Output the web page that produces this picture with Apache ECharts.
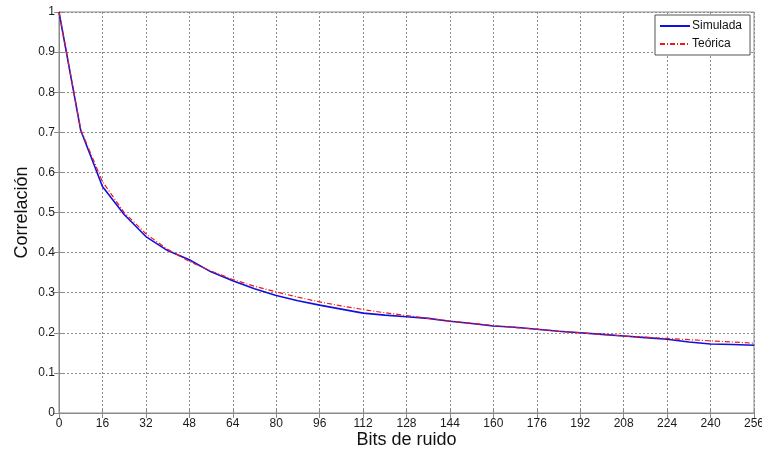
<!DOCTYPE html>
<html>
<head>
<meta charset="utf-8">
<script src="https://cdn.jsdelivr.net/npm/echarts@6/dist/echarts.min.js"></script>
<style>
  html, body { margin: 0; padding: 0; background: #fff; }
  #chart { width: 762px; height: 452px; }
</style>
</head>
<body>
<div id="chart"></div>
<script>
// Noise bits on the x axis
const bits = [0, 8, 16, 24, 32, 40, 48, 56, 64, 72, 80, 88, 96, 104, 112, 120, 128,
              136, 144, 152, 160, 168, 176, 184, 192, 200, 208, 216, 224, 232, 240, 248, 256];

// Measured correlation
const simulada = [1.000, 0.705, 0.565, 0.495, 0.440, 0.405, 0.382, 0.352, 0.330, 0.310, 0.293,
                  0.280, 0.269, 0.259, 0.249, 0.244, 0.240, 0.236, 0.229, 0.223, 0.217, 0.214,
                  0.209, 0.204, 0.200, 0.196, 0.192, 0.188, 0.184, 0.177, 0.172, 0.171, 0.169];

// Expected correlation
const teorica = [1.000, 0.707, 0.577, 0.500, 0.447, 0.408, 0.378, 0.354, 0.333, 0.316, 0.302,
                 0.289, 0.277, 0.267, 0.258, 0.250, 0.243, 0.236, 0.229, 0.224, 0.218, 0.213,
                 0.209, 0.204, 0.200, 0.196, 0.192, 0.189, 0.186, 0.183, 0.180, 0.177, 0.174];

const seriesNames = ['Simulada', 'Teórica'];
const xTitle = 'Bits de ruido';
const yTitle = 'Correlación';

const pair = (xs, ys) => xs.map((x, i) => [x, ys[i]]);

const chart = echarts.init(document.getElementById('chart'), null, { renderer: 'canvas' });

const fontFamily = 'Liberation Sans, Arial, sans-serif';
const labelFont = { fontFamily: fontFamily, fontSize: 12, color: '#1a1a1a' };
const frameColor = '#8a8a8a';
const gridLine = { show: true, lineStyle: { color: '#8c8c8c', type: [2, 2], width: 1 } };

chart.setOption({
  animation: false,
  backgroundColor: '#ffffff',
  grid: {
    left: 59, right: 8, top: 12, bottom: 39,
    outerBoundsMode: 'none', containLabel: false,
    show: true, borderColor: frameColor, borderWidth: 1
  },
  legend: {
    data: seriesNames,
    orient: 'vertical',
    left: 655,
    top: 15,
    itemWidth: 30,
    itemHeight: 12,
    itemGap: 6,
    padding: [5, 8, 5, 4],
    borderColor: '#555',
    borderWidth: 1,
    backgroundColor: '#fff',
    itemStyle: { opacity: 0 },
    textStyle: { fontFamily: fontFamily, fontSize: 12, color: '#111', padding: [0, 0, 0, -3] }
  },
  xAxis: [{
    type: 'value', min: 0, max: 256, interval: 16,
    name: xTitle, nameLocation: 'middle', nameGap: 18, nameMoveOverlap: false,
    nameTextStyle: { fontFamily: fontFamily, fontSize: 18, color: '#111' },
    axisLine: { lineStyle: { color: frameColor } },
    axisTick: { inside: true, length: 5, lineStyle: { color: frameColor } },
    axisLabel: Object.assign({ margin: 5 }, labelFont),
    splitLine: gridLine
  }, {
    type: 'value', min: 0, max: 256, interval: 16, position: 'top',
    axisLine: { show: true, lineStyle: { color: frameColor } },
    axisTick: { show: true, inside: true, length: 5, lineStyle: { color: frameColor } },
    axisLabel: { show: false }, splitLine: { show: false }
  }],
  yAxis: [{
    type: 'value', min: 0, max: 1, interval: 0.1,
    name: yTitle, nameLocation: 'middle', nameGap: 28, nameMoveOverlap: false,
    nameTextStyle: { fontFamily: fontFamily, fontSize: 18, color: '#111' },
    axisLine: { show: true, lineStyle: { color: frameColor } },
    axisTick: { show: true, inside: true, length: 5, lineStyle: { color: frameColor } },
    axisLabel: Object.assign({ margin: 4 }, labelFont),
    splitLine: gridLine
  }, {
    type: 'value', min: 0, max: 1, interval: 0.1, position: 'right',
    axisLine: { show: true, lineStyle: { color: frameColor } },
    axisTick: { show: true, inside: true, length: 5, lineStyle: { color: frameColor } },
    axisLabel: { show: false }, splitLine: { show: false }
  }],
  series: [{
    name: seriesNames[0],
    type: 'line',
    data: pair(bits, simulada),
    symbol: 'none',
    z: 3,
    lineStyle: { color: '#1010e0', width: 1.6, type: 'solid' },
    itemStyle: { color: '#1010e0' }
  }, {
    name: seriesNames[1],
    type: 'line',
    data: pair(bits, teorica),
    symbol: 'none',
    z: 4,
    lineStyle: { color: '#f01818', width: 1.2, type: [5, 2, 1, 2] },
    itemStyle: { color: '#f01818' }
  }]
});
</script>
</body>
</html>
